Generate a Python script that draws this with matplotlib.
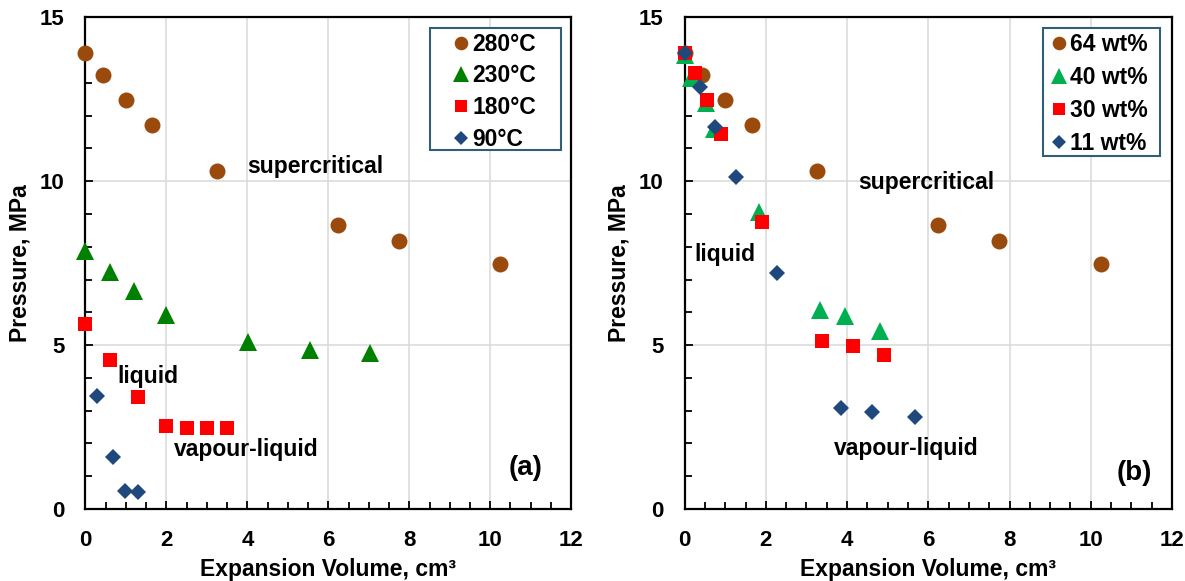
import matplotlib
matplotlib.use("Agg")
import matplotlib.pyplot as plt
from matplotlib.patches import Rectangle
from matplotlib.ticker import MultipleLocator

plt.rcParams['font.family'] = ['Liberation Sans', 'DejaVu Sans']
plt.rcParams['font.weight'] = 'bold'

# ---- panel (a): temperature series ----
t280_x = [0.0, 0.44, 1.0, 1.65, 3.26, 6.25, 7.74, 10.24]
t280_y = [13.9, 13.23, 12.49, 11.71, 10.31, 8.66, 8.18, 7.47]
t230_x = [0.0, 0.6, 1.2, 2.0, 4.02, 5.54, 7.04]
t230_y = [7.88, 7.23, 6.66, 5.92, 5.09, 4.84, 4.77]
t180_x = [0.0, 0.6, 1.29, 2.0, 2.5, 3.0, 3.5]
t180_y = [5.63, 4.55, 3.41, 2.52, 2.48, 2.48, 2.48]
t90_x = [0.28, 0.68, 0.99, 1.31]
t90_y = [3.46, 1.59, 0.55, 0.51]

# ---- panel (b): concentration series ----
w64_x = [0.0, 0.44, 1.0, 1.65, 3.26, 6.25, 7.74, 10.24]
w64_y = [13.9, 13.23, 12.49, 11.71, 10.31, 8.66, 8.18, 7.47]
w40_x = [0.0, 0.15, 0.52, 0.72, 1.83, 3.34, 3.96, 4.81]
w40_y = [13.85, 13.15, 12.4, 11.6, 9.05, 6.07, 5.89, 5.43]
w30_x = [0.0, 0.25, 0.55, 0.89, 1.90, 3.39, 4.15, 4.91]
w30_y = [13.9, 13.31, 12.48, 11.44, 8.77, 5.12, 4.97, 4.70]
w11_x = [0.0, 0.37, 0.76, 1.26, 2.27, 3.86, 4.62, 5.68]
w11_y = [13.9, 12.88, 11.65, 10.12, 7.19, 3.07, 2.97, 2.80]

labels_a = ['280°C', '230°C', '180°C', '90°C']
labels_b = ['64 wt%', '40 wt%', '30 wt%', '11 wt%']

BROWN = '#9A4A0C'
DKGREEN = '#008000'
LTGREEN = '#00B050'
RED = '#FF0000'
BLUE = '#1F497D'
GRID = '#D9D9D9'
LEGEND_EDGE = '#2F5E78'
FS = 16.5

fig = plt.figure(figsize=(11.85, 5.81), dpi=100)
ax_a = fig.add_axes([85.4 / 1185, 72 / 581, 485.8 / 1185, 491.7 / 581])
ax_b = fig.add_axes([684.6 / 1185, 72 / 581, 487.4 / 1185, 491.7 / 581])

style = dict(linestyle='none', markeredgewidth=0)


def draw(ax, series, labels):
    for (x, y, marker, color, ms), lab in zip(series, labels):
        ax.plot(x, y, marker=marker, color=color, markersize=ms,
                label=lab, clip_on=False, zorder=3, **style)


draw(ax_a, [(t280_x, t280_y, 'o', BROWN, 11.5),
            (t230_x, t230_y, '^', DKGREEN, 13),
            (t180_x, t180_y, 's', RED, 10),
            (t90_x, t90_y, 'D', BLUE, 8.5)], labels_a)
draw(ax_b, [(w64_x, w64_y, 'o', BROWN, 11.5),
            (w40_x, w40_y, '^', LTGREEN, 13),
            (w30_x, w30_y, 's', RED, 10),
            (w11_x, w11_y, 'D', BLUE, 8.5)], labels_b)

# legend frame boxes (axes fractions) and legend anchor / row spacing
legend_cfg = {
    ax_a: dict(box=(0.709, 0.730, 0.270, 0.248), anchor=(0.7495, 0.969), spacing=0.38),
    ax_b: dict(box=(0.735, 0.718, 0.241, 0.260), anchor=(0.744, 0.969), spacing=0.45),
}

for ax in (ax_a, ax_b):
    ax.set_xlim(0, 12)
    ax.set_ylim(0, 15)
    ax.xaxis.set_major_locator(MultipleLocator(2))
    ax.xaxis.set_minor_locator(MultipleLocator(0.5))
    ax.yaxis.set_major_locator(MultipleLocator(5))
    ax.yaxis.set_minor_locator(MultipleLocator(1))
    ax.grid(True, which='major', color=GRID, linewidth=1.1, zorder=0)
    ax.set_axisbelow(True)
    ax.tick_params(which='both', direction='in', labelsize=16, pad=15,
                   top=False, right=False, width=1.3)
    ax.tick_params(which='major', length=6)
    ax.tick_params(which='minor', length=5)
    for lbl in ax.get_xticklabels() + ax.get_yticklabels():
        lbl.set_fontweight('bold')
    for s in ax.spines.values():
        s.set_linewidth(1.6)
        s.set_color('black')
    ax.set_xlabel('Expansion Volume, cm³', fontsize=FS, fontweight='bold', labelpad=5)
    ax.set_ylabel('Pressure, MPa', fontsize=FS, fontweight='bold', labelpad=6)

    cfg = legend_cfg[ax]
    bx, by, bw, bh = cfg['box']
    ax.add_patch(Rectangle((bx, by), bw, bh, transform=ax.transAxes,
                           facecolor='white', edgecolor=LEGEND_EDGE,
                           linewidth=1.5, zorder=4))
    leg = ax.legend(loc='upper left', bbox_to_anchor=cfg['anchor'],
                    fontsize=FS, frameon=False, handlelength=1.0,
                    handletextpad=0.0, labelspacing=cfg['spacing'],
                    borderpad=0.0, borderaxespad=0.0, markerscale=0.85)
    leg.set_zorder(5)
    for t in leg.get_texts():
        t.set_fontweight('bold')

txt = dict(fontsize=FS, fontweight='bold', va='center', ha='left', color='black')
ax_a.text(4.0, 10.45, 'supercritical', **txt)
ax_a.text(0.79, 4.04, 'liquid', **txt)
ax_a.text(2.19, 1.8, 'vapour-liquid', **txt)
ax_a.text(10.45, 1.25, '(a)', fontsize=20, fontweight='bold', va='center', ha='left')

ax_b.text(4.27, 9.95, 'supercritical', **txt)
ax_b.text(0.23, 7.75, 'liquid', **txt)
ax_b.text(3.67, 1.85, 'vapour-liquid', **txt)
ax_b.text(10.63, 1.09, '(b)', fontsize=20, fontweight='bold', va='center', ha='left')

fig.savefig('out.png', dpi=100)
